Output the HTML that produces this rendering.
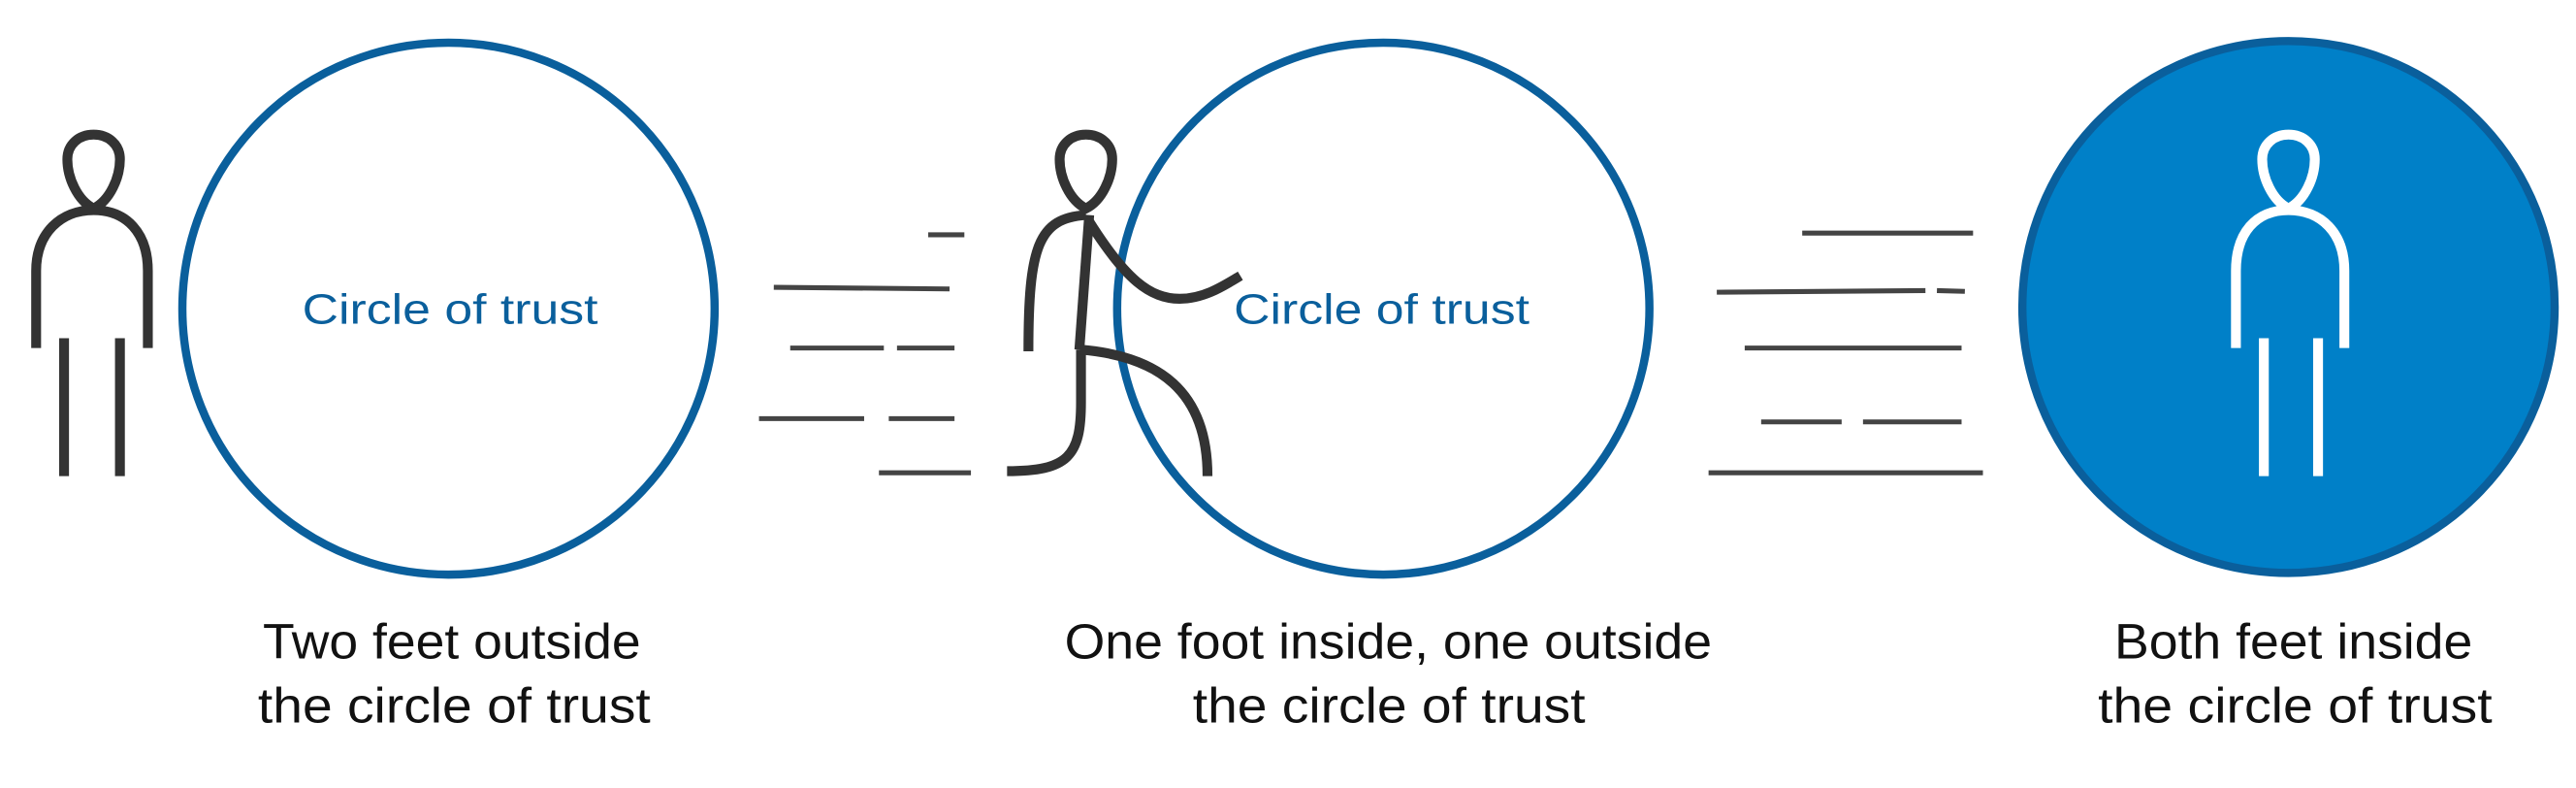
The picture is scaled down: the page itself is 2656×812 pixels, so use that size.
<!DOCTYPE html>
<html><head><meta charset="utf-8"><style>
html,body{margin:0;padding:0;background:#fff;width:2656px;height:812px;overflow:hidden}
svg{display:block}
text{font-family:"Liberation Sans",sans-serif}
</style></head><body>
<svg width="2656" height="812" viewBox="0 0 1568 480" preserveAspectRatio="none" xmlns="http://www.w3.org/2000/svg">
<circle cx="273" cy="188" r="162" fill="none" stroke="#0a5f9c" stroke-width="5"/>
<circle cx="842" cy="188" r="162" fill="none" stroke="#0a5f9c" stroke-width="5"/>
<circle cx="1393" cy="187" r="162" fill="#0080c8" stroke="#0a5f9c" stroke-width="5"/>
<text x="184" y="197" font-size="26" fill="#0a5f9c" textLength="180" lengthAdjust="spacingAndGlyphs">Circle of trust</text>
<text x="751" y="197" font-size="26" fill="#0a5f9c" textLength="180" lengthAdjust="spacingAndGlyphs">Circle of trust</text>
<g fill="none" stroke="#333" stroke-width="6">
<path d="M57,127 C47,122 41,108 41,97 C41,88 48,82 57,82 C66,82 73,88 73,97 C73,108 67,122 57,127 Z"/>
<path d="M22,212 L22,165 C22,142 37,128 57,128 C77,128 90,142 90,165 L90,212"/>
<path d="M39,206 L39,290 M73,206 L73,290"/>
</g>
<g fill="none" stroke="#fff" stroke-width="6">
<path d="M1393,127 C1383,122 1377,108 1377,97 C1377,88 1384,82 1393,82 C1402,82 1409,88 1409,97 C1409,108 1403,122 1393,127 Z"/>
<path d="M1361,212 L1361,165 C1361,142 1373,128 1393,128 C1413,128 1427,142 1427,165 L1427,212"/>
<path d="M1378,206 L1378,290 M1411,206 L1411,290"/>
</g>
<g fill="none" stroke="#333" stroke-width="6">
<path d="M661,127 C651,122 645,108 645,97 C645,88 652,82 661,82 C670,82 677,88 677,97 C677,108 671,122 661,127 Z"/>
<path d="M626,214 C626,150 632,133 661,131"/>
<path d="M663,131 L657,213"/>
<path d="M663,135 C685,170 700,182 718,182 C733,182 745,174 755,168"/>
<path d="M658,213 L658,245 C658,278 650,287 613,287"/>
<path d="M658,213 C705,217 735,238 735,290"/>
</g>
<g stroke="#444" stroke-width="3">
<line x1="565" y1="143" x2="587" y2="143"/>
<line x1="471" y1="175" x2="578" y2="176"/>
<line x1="481" y1="212" x2="538" y2="212"/>
<line x1="546" y1="212" x2="581" y2="212"/>
<line x1="462" y1="255" x2="526" y2="255"/>
<line x1="541" y1="255" x2="581" y2="255"/>
<line x1="535" y1="288" x2="591" y2="288"/>
<line x1="1097" y1="142" x2="1201" y2="142"/>
<line x1="1045" y1="178" x2="1172" y2="177"/>
<line x1="1179" y1="177" x2="1196" y2="177.5"/>
<line x1="1062" y1="212" x2="1194" y2="212"/>
<line x1="1072" y1="257" x2="1121" y2="257"/>
<line x1="1134" y1="257" x2="1194" y2="257"/>
<line x1="1040" y1="288" x2="1207" y2="288"/>
</g>
<g font-size="30" fill="#111" lengthAdjust="spacingAndGlyphs">
<text x="160" y="401" textLength="230" lengthAdjust="spacingAndGlyphs">Two feet outside</text>
<text x="157" y="440" textLength="239" lengthAdjust="spacingAndGlyphs">the circle of trust</text>
<text x="648" y="401" textLength="394" lengthAdjust="spacingAndGlyphs">One foot inside, one outside</text>
<text x="726" y="440" textLength="239" lengthAdjust="spacingAndGlyphs">the circle of trust</text>
<text x="1287" y="401" textLength="218" lengthAdjust="spacingAndGlyphs">Both feet inside</text>
<text x="1277" y="440" textLength="240" lengthAdjust="spacingAndGlyphs">the circle of trust</text>
</g>
</svg>
</body></html>
